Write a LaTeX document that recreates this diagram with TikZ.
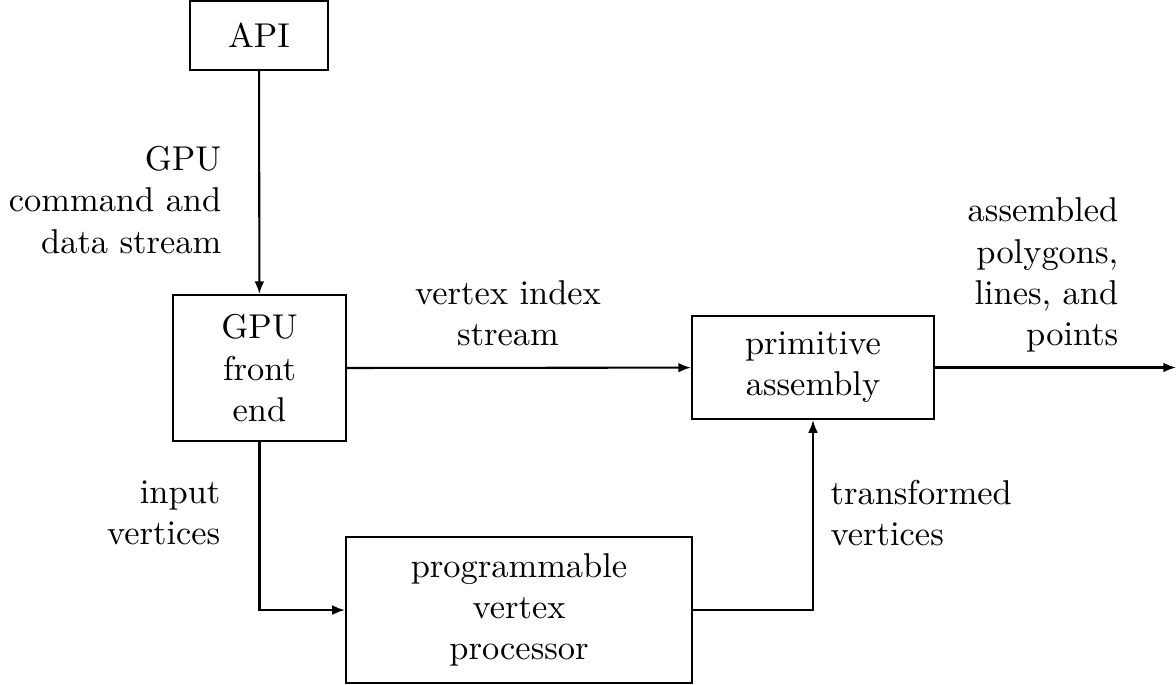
\documentclass[tikz,border=0pt]{standalone}
\usetikzlibrary{arrows.meta,positioning,calc}
\tikzset{
  flow arrow/.style={-{Latex[length=1.3mm,width=1mm]},draw=black,line width=0.6pt},
  stage node/.style={draw=black,line width=0.6pt,inner sep=0pt,align=center},
  side label/.style={inner sep=0pt}
}
\begin{document}
\begin{tikzpicture}
      \useasboundingbox (0,0) rectangle (12,6.98);
      \node[stage node,minimum width=1.408cm,minimum height=0.704cm]
        (api) at (2.643,6.617) {API};
      \node[stage node,minimum width=1.765cm,minimum height=1.49cm]
        (front) at (2.648,3.224) {GPU\\front\\end};
      \node[stage node,minimum width=2.469cm,minimum height=1.051cm]
        (prim) at (8.296,3.230) {primitive\\assembly};
      \node[stage node,minimum width=3.531cm,minimum height=1.49cm]
        (prog) at (5.296,0.755) {programmable\\vertex\\processor};
      \coordinate (out) at (12,3.230);
      % connectors
      \draw[flow arrow] (api) -- (front);
      \draw[flow arrow] (front) -- (prim);
      \draw[flow arrow] (prim) -- (out);
      \draw[flow arrow] (front.south) |- (prog.west);
      \draw[flow arrow] (prog.east) -| (prim.south);
      % labels
      \node[side label,align=right,anchor=east] (cmd) at (2.265,4.939)
        {GPU\\command and\\data stream};
      \node[side label,align=right,anchor=east] (invert) at (2.255,1.745)
        {input\\vertices};
      \node[side label,align=center] (index) at (5.184,3.786)
        {vertex index\\stream};
      \node[side label,align=right,anchor=east] (assembled) at (11.418,4.173)
        {assembled\\polygons,\\lines, and\\points};
      \node[side label,align=left,anchor=west] (transf) at (8.469,1.745)
        {transformed\\vertices};
    \end{tikzpicture}
\end{document}
